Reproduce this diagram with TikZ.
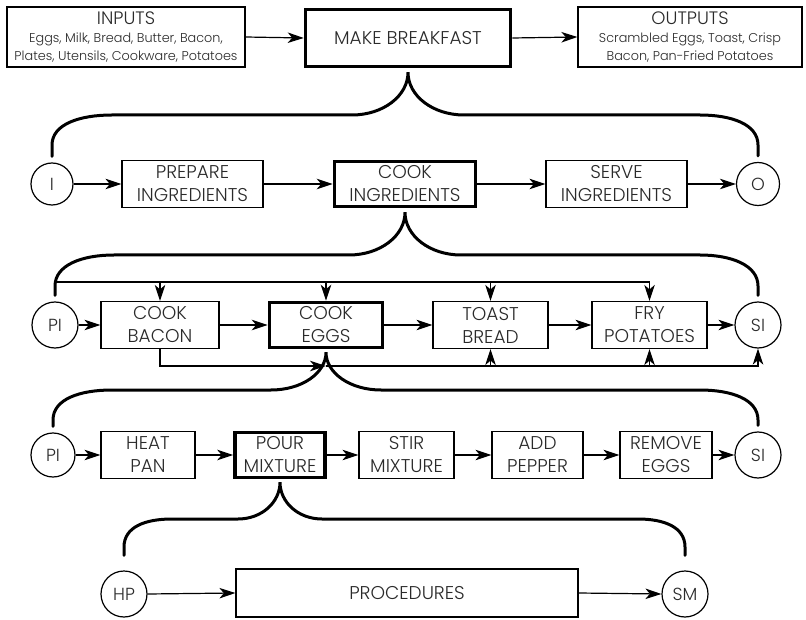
\documentclass[tikz,border=0pt]{standalone}
\usepackage{fontspec}
\setmainfont{Poppins Light}
\usetikzlibrary{arrows.meta,calc}
\definecolor{txt}{HTML}{2A2A2A}
\begin{document}
\begin{tikzpicture}[x=1pt,y=-1pt,
  every node/.style={text=txt},
  box/.style={draw=black,line width=1.2pt,minimum height=47pt,align=center,inner sep=0pt,
    font=\fontsize{18.5}{23}\selectfont},
  mainbox/.style={box,line width=3.6pt},
  circ/.style={draw=black,circle,line width=1.2pt,minimum size=44pt,inner sep=0pt,
    font=\fontsize{17.5}{18}\selectfont},
  arr/.style={line width=1.2pt,-{Stealth[length=16pt,width=10.5pt,inset=4.5pt]}},
  brace/.style={line width=3pt,line cap=round},
]
\useasboundingbox (0,0) rectangle (806,620);
\fill[white] (0,0) rectangle (806,620);

% Row 1
\node[box,minimum width=238pt,minimum height=60pt,font=\fontsize{12.8}{18}\selectfont] (in) at (126,37)
  {{\fontsize{18}{18}\selectfont INPUTS}\\Eggs, Milk, Bread, Butter, Bacon,\\Plates, Utensils, Cookware, Potatoes};
\node[mainbox,minimum width=205pt,minimum height=57pt] (make) at (408,38) {MAKE BREAKFAST};
\node[box,minimum width=224pt,minimum height=60pt,font=\fontsize{12.8}{18}\selectfont] (out) at (690,37)
  {{\fontsize{18}{18}\selectfont OUTPUTS}\\Scrambled Eggs, Toast, Crisp\\Bacon, Pan-Fried Potatoes};
\draw[arr] (in.east) -- (make.west);
\draw[arr] (make.east) -- (out.west);

% Row 2
\node[circ,minimum size=42pt] (I) at (52,184) {I};
\node[box,minimum width=141pt] (prep) at (192.5,184) {PREPARE\\INGREDIENTS};
\node[mainbox,minimum width=141pt,minimum height=45pt] (cooki) at (405,184) {COOK\\INGREDIENTS};
\node[box,minimum width=141pt] (serve) at (616.5,184) {SERVE\\INGREDIENTS};
\node[circ,minimum size=43pt] (O) at (758,184) {O};
\draw[arr] (I.east) -- (prep.west);
\draw[arr] (prep.east) -- (cooki.west);
\draw[arr] (cooki.east) -- (serve.west);
\draw[arr] (serve.east) -- (O.west);

% Row 3
\node[circ,minimum size=46pt] (PI) at (55,325) {PI};
\node[box,minimum width=118pt] (bacon) at (160,325) {COOK\\BACON};
\node[mainbox,minimum width=113pt,minimum height=45pt] (eggs) at (326,325) {COOK\\EGGS};
\node[box,minimum width=115pt] (toast) at (490.5,325) {TOAST\\BREAD};
\node[box,minimum width=115pt] (fry) at (649.5,325) {FRY\\POTATOES};
\node[circ,minimum size=46pt] (SI) at (758,325) {SI};
\draw[arr] (PI.east) -- (bacon.west);
\draw[arr] (bacon.east) -- (eggs.west);
\draw[arr] (eggs.east) -- (toast.west);
\draw[arr] (toast.east) -- (fry.west);
\draw[arr] (fry.east) -- (SI.west);

\coordinate (ft) at (55,282);
\coordinate (fb) at (0,366);
\draw[arr] (ft) -| (fry.north);
\draw[arr] (bacon.north |- ft) -- (bacon.north);
\draw[arr] (eggs.north |- ft) -- (eggs.north);
\draw[arr] (toast.north |- ft) -- (toast.north);
\draw[arr] (bacon.south) |- (eggs.south |- fb);
\draw[arr] (eggs.south |- fb) -| (SI.south);
\draw[arr] (toast.south |- fb) -- (toast.south);
\draw[arr] (fry.south |- fb) -- (fry.south);

% Row 4
\node[circ,minimum size=44pt] (PIb) at (53,455) {PI};
\node[box,minimum width=94pt] (heat) at (148,455) {HEAT\\PAN};
\node[mainbox,minimum width=90pt,minimum height=45pt] (pour) at (280,455) {POUR\\MIXTURE};
\node[box,minimum width=95pt] (stir) at (406.5,455) {STIR\\MIXTURE};
\node[box,minimum width=91pt] (add) at (537.5,455) {ADD\\PEPPER};
\node[box,minimum width=92pt] (rem) at (666,455) {REMOVE\\EGGS};
\node[circ,minimum size=46pt] (SIb) at (758,455) {SI};
\draw[arr] (PIb.east) -- (heat.west);
\draw[arr] (heat.east) -- (pour.west);
\draw[arr] (pour.east) -- (stir.west);
\draw[arr] (stir.east) -- (add.west);
\draw[arr] (add.east) -- (rem.west);
\draw[arr] (rem.east) -- (SIb.west);

% Row 5
\node[circ,minimum size=46pt] (HP) at (124,594) {HP};
\node[box,minimum width=342pt,minimum height=48pt] (proc) at (407,593) {PROCEDURES};
\node[circ,minimum size=46pt] (SM) at (685,594) {SM};
\draw[arr] (HP.east) -- (proc.west);
\draw[arr] (proc.east) -- (SM.west);

% Braces
\draw[brace] ([yshift=6pt]I.north) -- (52,145) .. controls (52,124) and (80,115) .. (112,115)
  -- (352,115) .. controls (383,115) and (408,96) .. ([yshift=-4pt]make.south)
  .. controls (408,96) and (433,115) .. (464,115)
  -- (700,115) .. controls (731,115) and (758,124) .. (758,145) -- ([yshift=6pt]O.north);

\draw[brace] ([yshift=6pt]PI.north) -- (55,286) .. controls (55,265) and (82,255) .. (114,255)
  -- (349,255) .. controls (380,255) and (405,236) .. ([yshift=-4pt]cooki.south)
  .. controls (405,236) and (430,255) .. (461,255)
  -- (700,255) .. controls (731,255) and (758,265) .. (758,286) -- ([yshift=6pt]SI.north);

\draw[brace] ([yshift=6pt]PIb.north) -- (53,420) .. controls (53,399) and (80,390) .. (112,390)
  -- (271,390) .. controls (302,390) and (326,373) .. ([yshift=-3pt]eggs.south)
  .. controls (326,373) and (350,390) .. (381,390)
  -- (700,390) .. controls (731,390) and (758,399) .. (758,420) -- ([yshift=6pt]SIb.north);

\draw[brace] ([yshift=15pt]HP.north) -- (124,547) .. controls (124,527) and (145,519) .. (172,519)
  -- (238,519) .. controls (262,519) and (280,502) .. ([yshift=-3pt]pour.south)
  .. controls (280,502) and (298,519) .. (322,519)
  -- (638,519) .. controls (664,519) and (685,527) .. (685,547) -- ([yshift=15pt]SM.north);
\end{tikzpicture}
\end{document}
